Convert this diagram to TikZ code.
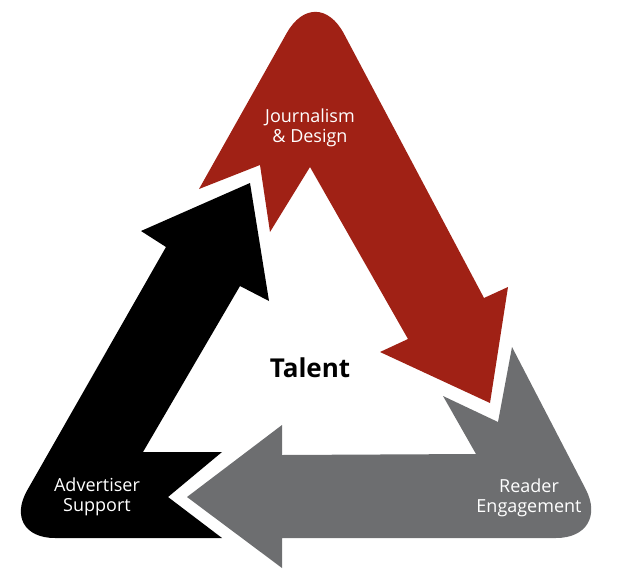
\documentclass[tikz,border=0pt]{standalone}
\usepackage{fontspec}
\setmainfont{Open Sans}
\definecolor{jred}{HTML}{A02115}
\definecolor{jgray}{HTML}{6D6E70}
\begin{document}
\begin{tikzpicture}[x=1pt,y=-1pt,
  lbl/.style={text=white,font=\fontsize{18}{22}\selectfont,align=center}]
\useasboundingbox (0,0) rectangle (628,586);
% red
\fill[jred] (199,189) [rounded corners=60pt] -- (316,-19) [sharp corners] -- (484,298) -- (508,287) -- (490,403) -- (380,352) -- (408,339) -- (310,167) -- (270,232) -- (260,165) -- cycle;
% gray
\fill[jgray] (512,347) [rounded corners=55pt] -- (611,538) [sharp corners] -- (282,538) -- (282,568) -- (187,497) -- (282,425) -- (282,455) -- (476,454) -- (443,396) -- (498,422) -- cycle;
% black
\fill[black] (222,538) [rounded corners=55pt] -- (0,538) [sharp corners] -- (166,247) -- (141,231) -- (250,183) -- (269,301) -- (240,286) -- (143,452) -- (222,452) -- (168,497) -- cycle;
\node[lbl] (jd) at (310,128) {Journalism\\[-2pt]\& Design};
\node[lbl] (re) at (529,498) {Reader\\[-2pt]Engagement};
\node[lbl] (as) at (97,497) {Advertiser\\[-2pt]Support};
\node[font=\fontsize{26}{30}\selectfont\bfseries] (t) at (310,368) {Talent};
\end{tikzpicture}
\end{document}
